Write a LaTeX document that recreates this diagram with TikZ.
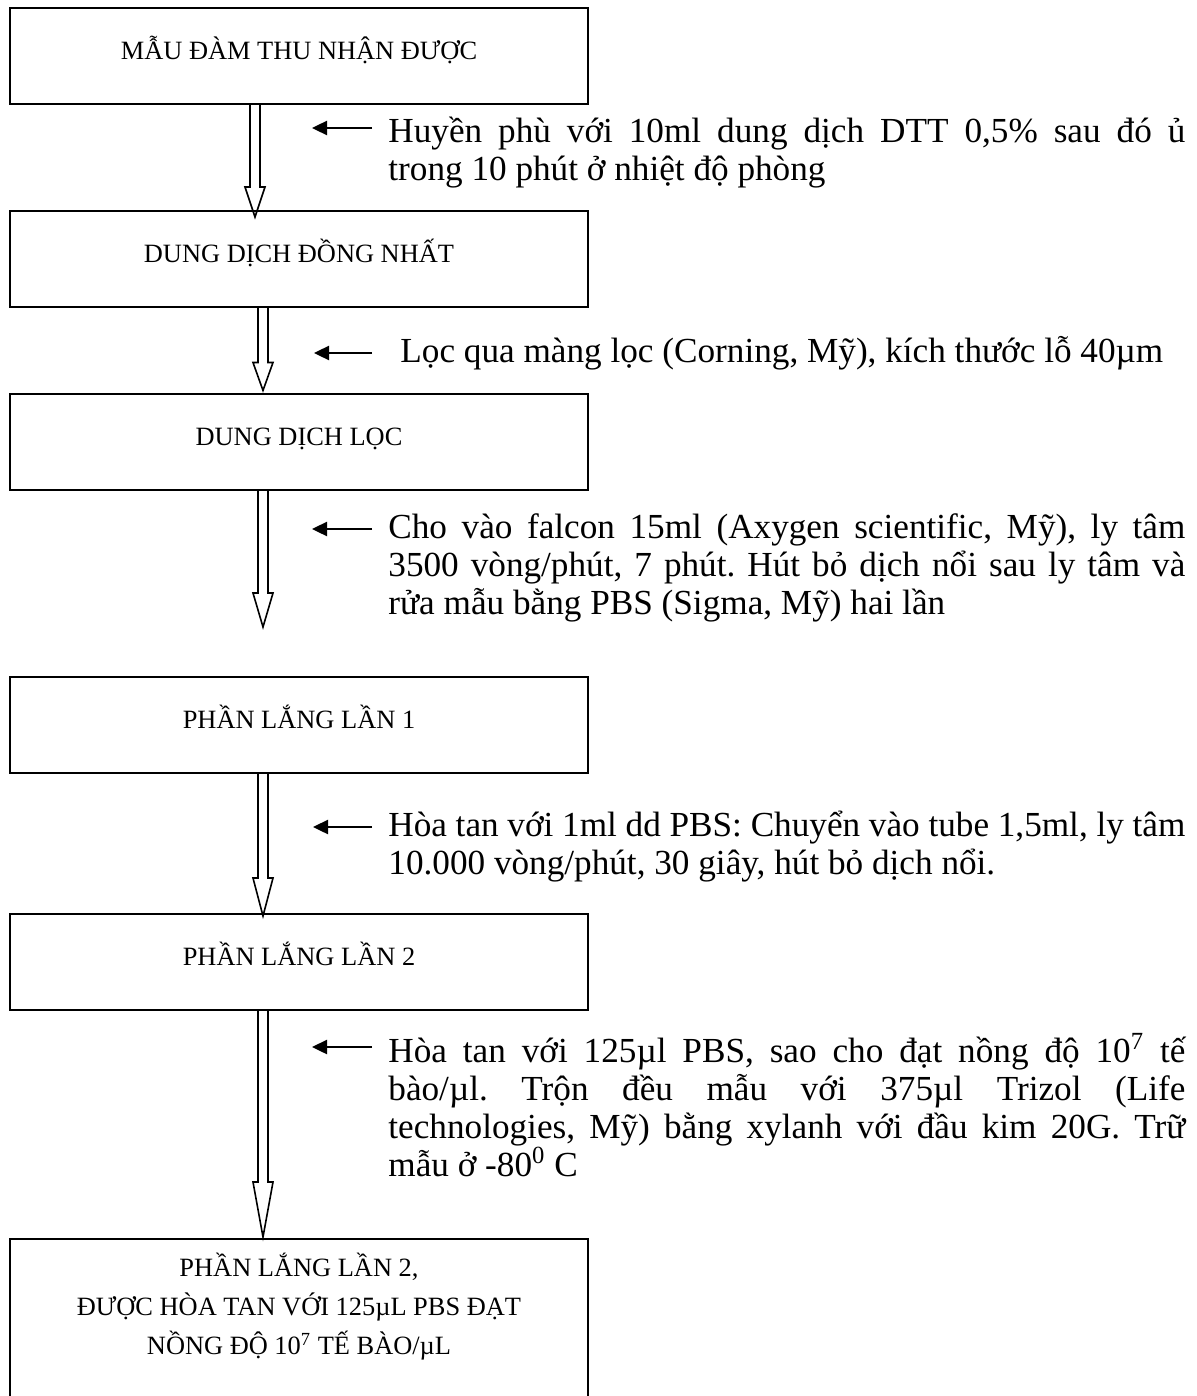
\documentclass[tikz,border=0pt]{standalone}
\usepackage{fontspec}
\setmainfont{Liberation Serif}
\usetikzlibrary{calc,arrows.meta}
\frenchspacing

% one justified line of a side note, and a last (ragged) line
\newcommand\jline[1]{\hbox to 398.5pt{#1}}
\newcommand\lline[1]{\hbox{#1}}
% side note: a top-aligned stack of lines, baseline = first line
\newcommand\sidenote[1]{\vtop{\fontsize{17.6}{19}\selectfont #1}}
% centred line inside the last box
\newcommand\midline[1]{\hbox to 289pt{\hfil #1\hfil}}

% hollow block arrow pointing down: start point, tip point, head length
\newcommand\blockdown[3]{%
  \draw[blockarrow] let \p1=#1, \p2=#2 in
    (\x1-2.5pt,\y1) -- (\x1-2.5pt,\y2+#3) -- (\x1-5pt,\y2+#3) -- (\x1,\y2)
    -- (\x1+5pt,\y2+#3) -- (\x1+2.5pt,\y2+#3) -- (\x1+2.5pt,\y1);}

\tikzset{
  stage/.style={draw, line width=1pt, minimum width=289pt, minimum height=48pt,
    inner sep=0pt, font=\fontsize{13.2}{19.5}\selectfont,
    text height=9pt, text depth=5.26pt},
  blockarrow/.style={draw, line width=0.8pt, line join=miter},
  pointer/.style={line width=1.2pt, -{Triangle[length=7.5pt,width=7pt]}},
  note/.style={inner sep=0pt, anchor=base west}
}

\begin{document}
\begin{tikzpicture}[x=0.5pt,y=-0.5pt]
\useasboundingbox (0,0) rectangle (1197,1396);
\fill[white] (0,0) rectangle (1197,1396);
\clip (0,0) rectangle (1197,1396);

% process stages
\node[stage] (b1) at (299,56)    {MẪU ĐÀM THU NHẬN ĐƯỢC};
\node[stage] (b2) at (299,259)   {DUNG DỊCH ĐỒNG NHẤT};
\node[stage] (b3) at (299,441.5) {DUNG DỊCH LỌC};
\node[stage] (b4) at (299,725)   {PHẦN LẮNG LẦN 1};
\node[stage] (b5) at (299,962)   {PHẦN LẮNG LẦN 2};
\node[minimum width=289pt, minimum height=100pt, inner sep=0pt, anchor=north]
  (b6) at (299,1239) {};
\draw[line width=1pt] (b6.south west) -- (b6.north west) -- (b6.north east) -- (b6.south east);
\node[inner sep=0pt, anchor=base] (t6) at (299,1276) {\vtop{\fontsize{13.2}{19.5}\selectfont
  \midline{PHẦN LẮNG LẦN 2,}
  \midline{ĐƯỢC HÒA TAN VỚI 125µL PBS ĐẠT}
  \midline{NỒNG ĐỘ 10\textsuperscript{7} TẾ BÀO/µL}}};

% flow between stages
\coordinate (c3) at (263,627);
\blockdown{($(b1.south)+(-44,0)$)}{($(b2.north)+(-44,7)$)}{15pt}
\blockdown{($(b2.south)+(-36,0)$)}{($(b3.north)+(-36,-2)$)}{14pt}
\blockdown{($(b3.south)+(-36,0)$)}{(c3)}{17pt}
\blockdown{($(b4.south)+(-36,0)$)}{($(b5.north)+(-36,3)$)}{19pt}
\blockdown{($(b5.south)+(-36,0)$)}{($(b6.north)+(-36,-2)$)}{27.5pt}

% side notes
\node[note] (t1) at (388,143) {\sidenote{%
  \jline{Huyền phù với 10ml dung dịch DTT 0,5\% sau đó ủ}
  \lline{trong 10 phút ở nhiệt độ phòng}}};
\node[note] (t2) at (400,362) {\sidenote{%
  \lline{Lọc qua màng lọc (Corning, Mỹ), kích thước lỗ 40µm}}};
\node[note] (t3) at (388,538) {\sidenote{%
  \jline{Cho vào falcon 15ml (Axygen scientific, Mỹ), ly tâm}
  \jline{3500 vòng/phút, 7 phút. Hút bỏ dịch nổi sau ly tâm và}
  \lline{rửa mẫu bằng PBS (Sigma, Mỹ) hai lần}}};
\node[note] (t4) at (388,836) {\sidenote{%
  \jline{Hòa tan với 1ml dd PBS: Chuyển vào tube 1,5ml, ly tâm}
  \lline{10.000 vòng/phút, 30 giây, hút bỏ dịch nổi.}}};
\node[note] (t5) at (388,1062) {\sidenote{%
  \jline{Hòa tan với 125µl PBS, sao cho đạt nồng độ 10\textsuperscript{7} tế}
  \jline{bào/µl. Trộn đều mẫu với 375µl Trizol (Life}
  \jline{technologies, Mỹ) bằng xylanh với đầu kim 20G. Trữ}
  \lline{mẫu ở -80\textsuperscript{0} C}}};

% pointers from notes to the flow
\coordinate (p1s) at (372,128);  \coordinate (p1e) at (312,128);
\coordinate (p2s) at (372,353);  \coordinate (p2e) at (314,353);
\coordinate (p3s) at (372,529);  \coordinate (p3e) at (312,529);
\coordinate (p4s) at (372,827);  \coordinate (p4e) at (313,827);
\coordinate (p5s) at (372,1047); \coordinate (p5e) at (312,1047);
\draw[pointer] (p1s) -- (p1e);
\draw[pointer] (p2s) -- (p2e);
\draw[pointer] (p3s) -- (p3e);
\draw[pointer] (p4s) -- (p4e);
\draw[pointer] (p5s) -- (p5e);
\end{tikzpicture}
\end{document}
